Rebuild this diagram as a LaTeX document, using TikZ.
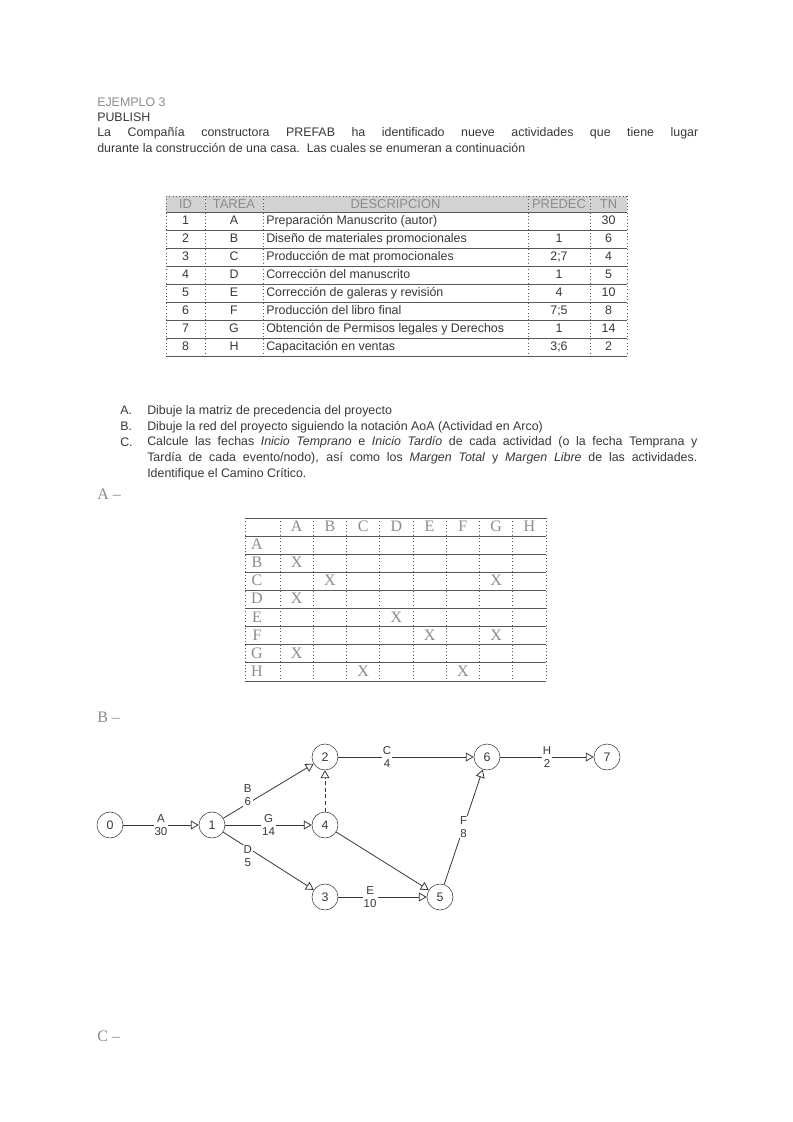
\documentclass[tikz,border=0pt]{standalone}
\usepackage{fontspec}
\setmainfont{Liberation Sans}
\newfontfamily\outlinefont{Liberation Serif}
\usetikzlibrary{arrows,positioning}
\definecolor{ink}{gray}{0.22}
\definecolor{hollow}{gray}{0.55}
\definecolor{rulegray}{gray}{0.35}

\begin{document}
\begin{tikzpicture}[
        x=0.75pt, y=-0.75pt,
        every node/.style={inner sep=0pt, text=ink, font=\fontsize{9.3}{12}\selectfont},
        txt/.style={anchor=base west},
        hollowtxt/.style={anchor=base west, text=hollow},
        cell/.style={anchor=base},
        headcell/.style={anchor=base, text=hollow, font=\fontsize{9.7}{12}\selectfont},
        letter/.style={anchor=base, text=hollow, font=\outlinefont\fontsize{12}{13}\selectfont},
        part/.style={anchor=base west, text=hollow, font=\outlinefont\fontsize{12}{14}\selectfont},
        event/.style={draw=ink, circle, minimum size=19.5pt, fill=white},
        act/.style={fill=white, align=center, inner sep=0.8pt, font=\fontsize{8.6}{9.6}\selectfont},
        hline/.style={draw=rulegray, line width=0.5pt},
        vline/.style={draw=rulegray, line width=0.5pt, dotted},
        >=open triangle 60
    ]

    % Page
    \fill[white] (0,0) rectangle (793,1122);
    \useasboundingbox (0,0) rectangle (793,1122);

    % Heading
    \node (title) [hollowtxt] at (97,106) {EJEMPLO 3};
    \node (publish) [txt] at (97,121) {PUBLISH};
    \node (intro) [anchor=north west, text width=450.75pt, align=justify] at (97,127.5)
        {La Compañía constructora PREFAB ha identificado nueve actividades que tiene lugar\linebreak
         durante la construcción de una casa.\ \ Las cuales se enumeran a continuación};

    % Activity table
    \fill[gray!35] (166,196) rectangle (627,212);
    \draw[vline] (166,196) -- (627,196);
    \foreach \y in {212,230,...,356}
        \draw[hline] (166,\y) -- (627,\y);
    \foreach \x in {166,205,263,528,590,627}
        \draw[vline] (\x,196) -- (\x,356);
    \node (hid) [headcell] at (185.5,208) {ID};
    \node (hta) [headcell] at (234,208) {TAREA};
    \node (hde) [headcell] at (395.5,208) {DESCRIPCION};
    \node (hpr) [headcell] at (559,208) {PREDEC};
    \node (htn) [headcell] at (608.5,208) {TN};
    \foreach \id/\ta/\de/\pr/\tn in {
            1/A/{Preparación Manuscrito (autor)}//30,
            2/B/{Diseño de materiales promocionales}/1/6,
            3/C/{Producción de mat promocionales}/2;7/4,
            4/D/{Corrección del manuscrito}/1/5,
            5/E/{Corrección de galeras y revisión}/4/10,
            6/F/{Producción del libro final}/7;5/8,
            7/G/{Obtención de Permisos legales y Derechos}/1/14,
            8/H/{Capacitación en ventas}/3;6/2} {
        \node (id\id) [cell] at (185.5,{206.5+18*\id}) {\id};
        \node (ta\id) [cell] at (234,{206.5+18*\id}) {\ta};
        \node (de\id) [txt] at (266,{206.5+18*\id}) {\de};
        \node (pr\id) [cell] at (559,{206.5+18*\id}) {\pr};
        \node (tn\id) [cell] at (608.5,{206.5+18*\id}) {\tn};
    }

    % Questions
    \node (qa) [txt] at (120,414) {A.};
    \node (qb) [txt] at (120,430) {B.};
    \node (qc) [txt] at (120,446) {C.};
    \node (qatext) [txt] at (147,414) {Dibuje la matriz de precedencia del proyecto};
    \node (qbtext) [txt] at (147,430) {Dibuje la red del proyecto siguiendo la notación AoA (Actividad en Arco)};
    \node (qctext) [anchor=north west, text width=412.5pt, align=justify] at (147,436.5)
        {Calcule las fechas \textit{Inicio Temprano} e \textit{Inicio Tardío} de cada actividad (o la fecha Temprana y\linebreak
         Tardía de cada evento/nodo), así como los \textit{Margen Total} y \textit{Margen Libre} de las actividades.\linebreak
         Identifique el Camino Crítico.};

    % Part A: precedence matrix
    \node (parta) [part] at (97,499) {A –};
    \foreach \y in {518,536.1,...,681}
        \draw[hline] (245,\y) -- (546,\y);
    \draw[vline] (245,518) -- (245,681);
    \foreach \x in {280,313.25,...,547}
        \draw[vline] (\x,518) -- (\x,681);
    \foreach \l [count=\j] in {A,...,H} {
        \node (col\l) [letter] at ({280+33.25*(\j-0.5)},531.5) {\l};
        \node (row\l) [letter] at (257,{531.5+18.1*\j}) {\l};
    }
    \foreach \r/\c in {2/1, 3/2, 3/7, 4/1, 5/4, 6/5, 6/7, 7/1, 8/3, 8/6}
        \node (x\r\c) [letter] at ({280+33.25*(\c-0.5)},{531.5+18.1*\r}) {X};

    % Part B: AoA network
    \node (partb) [part] at (97,722) {B –};

    % Nodes
    \node (n0) [event] at (110,825) {0};
    \node (n1) [event, right=76.5pt of n0.center, anchor=center] {1};
    \node (n4) [event, right=84.75pt of n1.center, anchor=center] {4};
    \node (n2) [event, above=51pt of n4.center, anchor=center] {2};
    \node (n3) [event, below=54pt of n4.center, anchor=center] {3};
    \node (n5) [event, right=86.25pt of n3.center, anchor=center] {5};
    \node (n6) [event, right=121.5pt of n2.center, anchor=center] {6};
    \node (n7) [event, right=90pt of n6.center, anchor=center] {7};

    % Edges
    \draw[->, line width=0.6pt, ink] (n0) -- node[act] {A\\30} (n1);
    \draw[->, line width=0.6pt, ink] (n1) -- node[act, pos=0.3, xshift=-2pt, yshift=5pt] {B\\6} (n2);
    \draw[->, line width=0.6pt, ink] (n1) -- node[act] {G\\14} (n4);
    \draw[->, line width=0.6pt, ink] (n1) -- node[act, pos=0.3, xshift=-2pt, yshift=-5pt] {D\\5} (n3);
    \draw[->, line width=0.6pt, ink, densely dashed] (n4) -- (n2);
    \draw[->, line width=0.6pt, ink] (n2) -- node[act, pos=0.36] {C\\4} (n6);
    \draw[->, line width=0.6pt, ink] (n4) -- (n5);
    \draw[->, line width=0.6pt, ink] (n3) -- node[act, pos=0.36] {E\\10} (n5);
    \draw[->, line width=0.6pt, ink] (n5) -- node[act] {F\\8} (n6);
    \draw[->, line width=0.6pt, ink] (n6) -- node[act] {H\\2} (n7);

    % Part C
    \node (partc) [part] at (97,1041) {C –};

\end{tikzpicture}
\end{document}
